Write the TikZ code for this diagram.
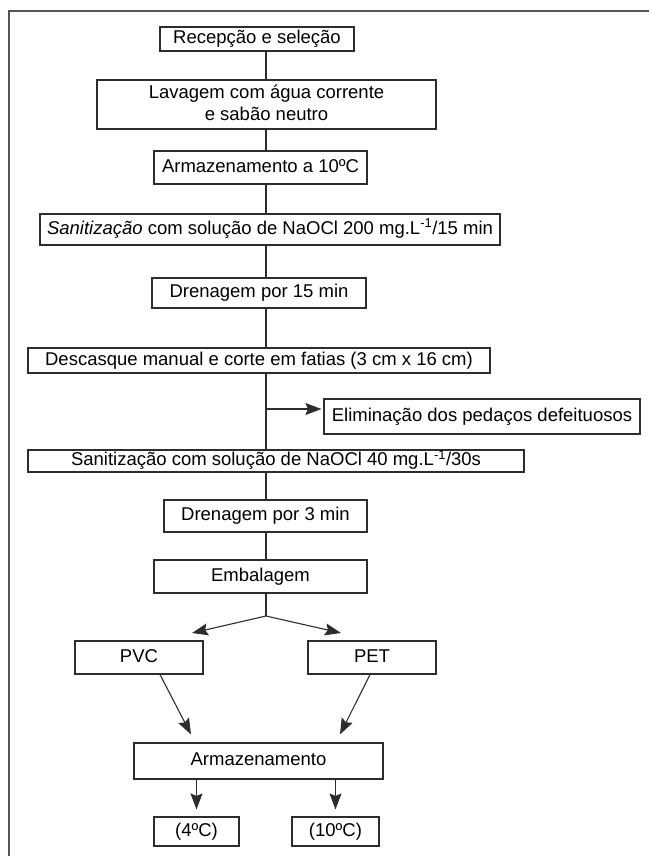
\documentclass[tikz,border=0pt]{standalone}
\usepackage{fontspec}
\setmainfont{Liberation Sans}
\usetikzlibrary{arrows.meta}
\definecolor{lineGray}{RGB}{45,45,45}
\definecolor{frameGray}{RGB}{85,85,85}

\begin{document}
\begin{tikzpicture}[
  x=1pt, y=-1pt,
  box/.style={rectangle, draw=lineGray, line width=1.1pt, inner sep=0pt,
              align=center, font=\fontsize{18.5}{22}\selectfont,
              text height=13.5pt, text depth=4pt},
  link/.style={draw=lineGray, line width=1.1pt},
  arr/.style={link, -{Stealth[length=16pt, width=12pt, inset=2.5pt]}},
  frame/.style={draw=frameGray, line width=1.3pt},
]
\useasboundingbox (0,0) rectangle (649,856);

%% Frame
\draw[frame] (9,856) -- (9,11) -- (649,11);

%% Nodes
\node[box, minimum width=194pt, minimum height=24pt] (recep)  at (257,39)    {Recepção e seleção};
\node[box, minimum width=339pt, minimum height=49pt, text height=35.5pt] (lav) at (266.5,104.5) {Lavagem com água corrente\\e sabão neutro};
\node[box, minimum width=213pt, minimum height=33pt] (arm10)  at (260.5,167.5) {Armazenamento a 10ºC};
\node[box, minimum width=460pt, minimum height=31pt] (san200) at (270,229.5) {\textit{Sanitização} com solução de NaOCl 200 mg.L\textsuperscript{-1}/15 min};
\node[box, minimum width=214pt, minimum height=30pt] (dren15) at (259,293)   {Drenagem por 15 min};
\node[box, minimum width=462pt, minimum height=25pt] (desc)   at (259,360.5) {Descasque manual e corte em fatias (3 cm x 16 cm)};
\node[box, minimum width=316pt, minimum height=35pt] (elim)   at (482,416.5) {Eliminação dos pedaços defeituosos};
\node[box, minimum width=496pt, minimum height=22pt] (san40)  at (276,461)   {Sanitização com solução de NaOCl 40 mg.L\textsuperscript{-1}/30s};
\node[box, minimum width=203pt, minimum height=32pt] (dren3)  at (265.5,516) {Drenagem por 3 min};
\node[box, minimum width=213pt, minimum height=33pt] (emb)    at (260.5,576.5) {Embalagem};
\node[box, minimum width=128pt, minimum height=33pt] (pvc)    at (139,657.5) {PVC};
\node[box, minimum width=128pt, minimum height=33pt] (pet)    at (372,657.5) {PET};
\node[box, minimum width=249pt, minimum height=36pt] (arm)    at (258.5,761) {Armazenamento};
\node[box, minimum width=85pt,  minimum height=29pt] (t4)     at (196.5,831.5) {(4ºC)};
\node[box, minimum width=87pt,  minimum height=29pt] (t10)    at (335.5,831.5) {(10ºC)};

%% Helper points
\coordinate (spine) at (266,0);
\coordinate (brk)   at (266,409);
\coordinate (fork)  at (266,616);
\coordinate (pvcin) at (192,633);
\coordinate (petin) at (341,633);

%% Edges
\draw[link] (recep.south -| spine)  -- (lav.north -| spine);
\draw[link] (lav.south -| spine)    -- (arm10.north -| spine);
\draw[link] (arm10.south -| spine)  -- (san200.north -| spine);
\draw[link] (san200.south -| spine) -- (dren15.north -| spine);
\draw[link] (dren15.south -| spine) -- (desc.north -| spine);
\draw[link] (desc.south -| spine)   -- (san40.north -| spine);
\draw[link] (san40.south -| spine)  -- (dren3.north -| spine);
\draw[link] (dren3.south -| spine)  -- (emb.north -| spine);
\draw[arr]  (brk) -- ([xshift=-2pt]brk -| elim.west);
\draw[link] (emb.south -| spine) -- (fork);
\draw[arr]  (fork) -- (pvcin);
\draw[arr]  (fork) -- (petin);
\draw[arr]  ([xshift=21pt]pvc.south) -- ([xshift=-67.5pt, yshift=8pt]arm.north);
\draw[arr]  ([xshift=-2pt]pet.south) -- ([xshift=81.5pt, yshift=8pt]arm.north);
\draw[arr]  (arm.south -| t4)  -- ([yshift=7pt]t4.north);
\draw[arr]  (arm.south -| t10) -- ([yshift=7pt]t10.north);
\end{tikzpicture}
\end{document}
